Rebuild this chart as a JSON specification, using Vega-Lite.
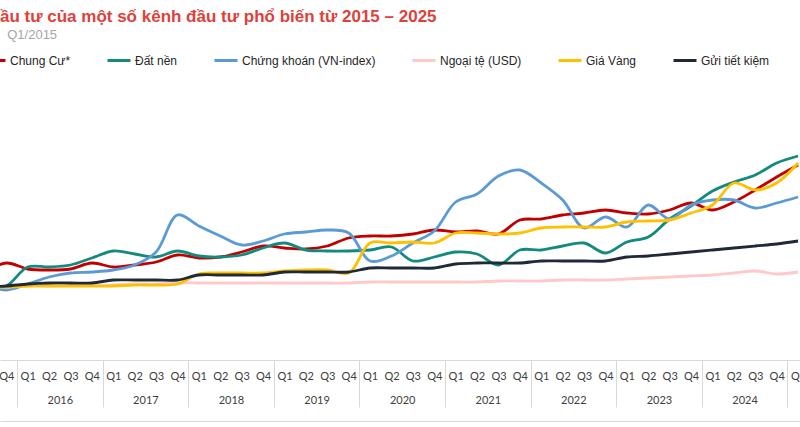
{
"$schema": "https://vega.github.io/schema/vega-lite/v6.json",
"width": 800,
"height": 280,
"autosize": {"type": "none"},
"padding": {"left": 0, "right": 0, "top": 80, "bottom": 67},
"background": "white",
"title": {
  "text": "ầu tư của một số kênh đầu tư phổ biến từ 2015 – 2025",
  "subtitle": "\u200b\u00a0\u00a0Q1/2015",
  "anchor": "start", "frame": "group", "orient": "top",
  "font": "Liberation Sans", "fontSize": 17, "fontWeight": "bold", "color": "#e0403a",
  "subtitleFont": "Liberation Sans", "subtitleFontSize": 13, "subtitleColor": "#a6a6a6",
  "subtitlePadding": 3, "offset": 5
},
"data": {"values": [
{"series":"Chung Cư*","q":2,"v":130},{"series":"Chung Cư*","q":3,"v":148},{"series":"Chung Cư*","q":4,"v":136},{"series":"Chung Cư*","q":5,"v":134},{"series":"Chung Cư*","q":6,"v":136},{"series":"Chung Cư*","q":7,"v":148},{"series":"Chung Cư*","q":8,"v":140},{"series":"Chung Cư*","q":9,"v":144},{"series":"Chung Cư*","q":10,"v":150},{"series":"Chung Cư*","q":11,"v":164},
{"series":"Chung Cư*","q":12,"v":158},{"series":"Chung Cư*","q":13,"v":160},{"series":"Chung Cư*","q":14,"v":170},{"series":"Chung Cư*","q":15,"v":182},{"series":"Chung Cư*","q":16,"v":178},{"series":"Chung Cư*","q":17,"v":176},{"series":"Chung Cư*","q":18,"v":182},{"series":"Chung Cư*","q":19,"v":198},{"series":"Chung Cư*","q":20,"v":202},{"series":"Chung Cư*","q":21,"v":202},
{"series":"Chung Cư*","q":22,"v":206},{"series":"Chung Cư*","q":23,"v":214},{"series":"Chung Cư*","q":24,"v":210},{"series":"Chung Cư*","q":25,"v":212},{"series":"Chung Cư*","q":26,"v":206},{"series":"Chung Cư*","q":27,"v":234},{"series":"Chung Cư*","q":28,"v":236},{"series":"Chung Cư*","q":29,"v":244},{"series":"Chung Cư*","q":30,"v":248},{"series":"Chung Cư*","q":31,"v":254},
{"series":"Chung Cư*","q":32,"v":248},{"series":"Chung Cư*","q":33,"v":246},{"series":"Chung Cư*","q":34,"v":254},{"series":"Chung Cư*","q":35,"v":268},{"series":"Chung Cư*","q":36,"v":254},{"series":"Chung Cư*","q":37,"v":270},{"series":"Chung Cư*","q":38,"v":294},{"series":"Chung Cư*","q":39,"v":320},{"series":"Chung Cư*","q":40,"v":344},
{"series":"Đất nền","q":2,"v":96},{"series":"Đất nền","q":3,"v":102},{"series":"Đất nền","q":4,"v":140},{"series":"Đất nền","q":5,"v":140},{"series":"Đất nền","q":6,"v":144},{"series":"Đất nền","q":7,"v":158},{"series":"Đất nền","q":8,"v":172},{"series":"Đất nền","q":9,"v":166},{"series":"Đất nền","q":10,"v":160},{"series":"Đất nền","q":11,"v":172},
{"series":"Đất nền","q":12,"v":162},{"series":"Đất nền","q":13,"v":160},{"series":"Đất nền","q":14,"v":164},{"series":"Đất nền","q":15,"v":178},{"series":"Đất nền","q":16,"v":188},{"series":"Đất nền","q":17,"v":174},{"series":"Đất nền","q":18,"v":172},{"series":"Đất nền","q":19,"v":172},{"series":"Đất nền","q":20,"v":174},{"series":"Đất nền","q":21,"v":180},
{"series":"Đất nền","q":22,"v":152},{"series":"Đất nền","q":23,"v":160},{"series":"Đất nền","q":24,"v":170},{"series":"Đất nền","q":25,"v":166},{"series":"Đất nền","q":26,"v":144},{"series":"Đất nền","q":27,"v":174},{"series":"Đất nền","q":28,"v":174},{"series":"Đất nền","q":29,"v":182},{"series":"Đất nền","q":30,"v":188},{"series":"Đất nền","q":31,"v":168},
{"series":"Đất nền","q":32,"v":190},{"series":"Đất nền","q":33,"v":200},{"series":"Đất nền","q":34,"v":236},{"series":"Đất nền","q":35,"v":262},{"series":"Đất nền","q":36,"v":292},{"series":"Đất nền","q":37,"v":310},{"series":"Đất nền","q":38,"v":324},{"series":"Đất nền","q":39,"v":348},{"series":"Đất nền","q":40,"v":362},
{"series":"Chứng khoán (VN-index)","q":2,"v":104},{"series":"Chứng khoán (VN-index)","q":3,"v":94},{"series":"Chứng khoán (VN-index)","q":4,"v":106},{"series":"Chứng khoán (VN-index)","q":5,"v":120},{"series":"Chứng khoán (VN-index)","q":6,"v":128},{"series":"Chứng khoán (VN-index)","q":7,"v":130},{"series":"Chứng khoán (VN-index)","q":8,"v":134},{"series":"Chứng khoán (VN-index)","q":9,"v":144},{"series":"Chứng khoán (VN-index)","q":10,"v":170},{"series":"Chứng khoán (VN-index)","q":11,"v":244},
{"series":"Chứng khoán (VN-index)","q":12,"v":222},{"series":"Chứng khoán (VN-index)","q":13,"v":202},{"series":"Chứng khoán (VN-index)","q":14,"v":184},{"series":"Chứng khoán (VN-index)","q":15,"v":192},{"series":"Chứng khoán (VN-index)","q":16,"v":206},{"series":"Chứng khoán (VN-index)","q":17,"v":210},{"series":"Chứng khoán (VN-index)","q":18,"v":214},{"series":"Chứng khoán (VN-index)","q":19,"v":208},{"series":"Chứng khoán (VN-index)","q":20,"v":152},{"series":"Chứng khoán (VN-index)","q":21,"v":162},
{"series":"Chứng khoán (VN-index)","q":22,"v":188},{"series":"Chứng khoán (VN-index)","q":23,"v":212},{"series":"Chứng khoán (VN-index)","q":24,"v":270},{"series":"Chứng khoán (VN-index)","q":25,"v":286},{"series":"Chứng khoán (VN-index)","q":26,"v":322},{"series":"Chứng khoán (VN-index)","q":27,"v":334},{"series":"Chứng khoán (VN-index)","q":28,"v":308},{"series":"Chứng khoán (VN-index)","q":29,"v":274},{"series":"Chứng khoán (VN-index)","q":30,"v":218},{"series":"Chứng khoán (VN-index)","q":31,"v":240},
{"series":"Chứng khoán (VN-index)","q":32,"v":220},{"series":"Chứng khoán (VN-index)","q":33,"v":264},{"series":"Chứng khoán (VN-index)","q":34,"v":236},{"series":"Chứng khoán (VN-index)","q":35,"v":264},{"series":"Chứng khoán (VN-index)","q":36,"v":274},{"series":"Chứng khoán (VN-index)","q":37,"v":274},{"series":"Chứng khoán (VN-index)","q":38,"v":258},{"series":"Chứng khoán (VN-index)","q":39,"v":268},{"series":"Chứng khoán (VN-index)","q":40,"v":280},
{"series":"Ngoại tệ (USD)","q":2,"v":100},{"series":"Ngoại tệ (USD)","q":3,"v":100},{"series":"Ngoại tệ (USD)","q":4,"v":102},{"series":"Ngoại tệ (USD)","q":5,"v":102},{"series":"Ngoại tệ (USD)","q":6,"v":104},{"series":"Ngoại tệ (USD)","q":7,"v":104},{"series":"Ngoại tệ (USD)","q":8,"v":104},{"series":"Ngoại tệ (USD)","q":9,"v":106},{"series":"Ngoại tệ (USD)","q":10,"v":106},{"series":"Ngoại tệ (USD)","q":11,"v":108},
{"series":"Ngoại tệ (USD)","q":12,"v":108},{"series":"Ngoại tệ (USD)","q":13,"v":108},{"series":"Ngoại tệ (USD)","q":14,"v":108},{"series":"Ngoại tệ (USD)","q":15,"v":108},{"series":"Ngoại tệ (USD)","q":16,"v":108},{"series":"Ngoại tệ (USD)","q":17,"v":108},{"series":"Ngoại tệ (USD)","q":18,"v":108},{"series":"Ngoại tệ (USD)","q":19,"v":108},{"series":"Ngoại tệ (USD)","q":20,"v":110},{"series":"Ngoại tệ (USD)","q":21,"v":110},
{"series":"Ngoại tệ (USD)","q":22,"v":110},{"series":"Ngoại tệ (USD)","q":23,"v":110},{"series":"Ngoại tệ (USD)","q":24,"v":110},{"series":"Ngoại tệ (USD)","q":25,"v":110},{"series":"Ngoại tệ (USD)","q":26,"v":112},{"series":"Ngoại tệ (USD)","q":27,"v":112},{"series":"Ngoại tệ (USD)","q":28,"v":112},{"series":"Ngoại tệ (USD)","q":29,"v":114},{"series":"Ngoại tệ (USD)","q":30,"v":114},{"series":"Ngoại tệ (USD)","q":31,"v":114},
{"series":"Ngoại tệ (USD)","q":32,"v":116},{"series":"Ngoại tệ (USD)","q":33,"v":118},{"series":"Ngoại tệ (USD)","q":34,"v":120},{"series":"Ngoại tệ (USD)","q":35,"v":122},{"series":"Ngoại tệ (USD)","q":36,"v":124},{"series":"Ngoại tệ (USD)","q":37,"v":128},{"series":"Ngoại tệ (USD)","q":38,"v":132},{"series":"Ngoại tệ (USD)","q":39,"v":126},{"series":"Ngoại tệ (USD)","q":40,"v":130},
{"series":"Giá Vàng","q":2,"v":100},{"series":"Giá Vàng","q":3,"v":100},{"series":"Giá Vàng","q":4,"v":102},{"series":"Giá Vàng","q":5,"v":102},{"series":"Giá Vàng","q":6,"v":102},{"series":"Giá Vàng","q":7,"v":102},{"series":"Giá Vàng","q":8,"v":102},{"series":"Giá Vàng","q":9,"v":104},{"series":"Giá Vàng","q":10,"v":104},{"series":"Giá Vàng","q":11,"v":106},
{"series":"Giá Vàng","q":12,"v":126},{"series":"Giá Vàng","q":13,"v":128},{"series":"Giá Vàng","q":14,"v":128},{"series":"Giá Vàng","q":15,"v":128},{"series":"Giá Vàng","q":16,"v":132},{"series":"Giá Vàng","q":17,"v":134},{"series":"Giá Vàng","q":18,"v":134},{"series":"Giá Vàng","q":19,"v":128},{"series":"Giá Vàng","q":20,"v":188},{"series":"Giá Vàng","q":21,"v":188},
{"series":"Giá Vàng","q":22,"v":190},{"series":"Giá Vàng","q":23,"v":188},{"series":"Giá Vàng","q":24,"v":208},{"series":"Giá Vàng","q":25,"v":208},{"series":"Giá Vàng","q":26,"v":206},{"series":"Giá Vàng","q":27,"v":208},{"series":"Giá Vàng","q":28,"v":218},{"series":"Giá Vàng","q":29,"v":220},{"series":"Giá Vàng","q":30,"v":220},{"series":"Giá Vàng","q":31,"v":220},
{"series":"Giá Vàng","q":32,"v":230},{"series":"Giá Vàng","q":33,"v":232},{"series":"Giá Vàng","q":34,"v":234},{"series":"Giá Vàng","q":35,"v":248},{"series":"Giá Vàng","q":36,"v":264},{"series":"Giá Vàng","q":37,"v":308},{"series":"Giá Vàng","q":38,"v":294},{"series":"Giá Vàng","q":39,"v":308},{"series":"Giá Vàng","q":40,"v":348},
{"series":"Gửi tiết kiệm","q":2,"v":100},{"series":"Gửi tiết kiệm","q":3,"v":102},{"series":"Gửi tiết kiệm","q":4,"v":106},{"series":"Gửi tiết kiệm","q":5,"v":108},{"series":"Gửi tiết kiệm","q":6,"v":108},{"series":"Gửi tiết kiệm","q":7,"v":108},{"series":"Gửi tiết kiệm","q":8,"v":114},{"series":"Gửi tiết kiệm","q":9,"v":114},{"series":"Gửi tiết kiệm","q":10,"v":114},{"series":"Gửi tiết kiệm","q":11,"v":114},
{"series":"Gửi tiết kiệm","q":12,"v":124},{"series":"Gửi tiết kiệm","q":13,"v":124},{"series":"Gửi tiết kiệm","q":14,"v":124},{"series":"Gửi tiết kiệm","q":15,"v":124},{"series":"Gửi tiết kiệm","q":16,"v":130},{"series":"Gửi tiết kiệm","q":17,"v":130},{"series":"Gửi tiết kiệm","q":18,"v":130},{"series":"Gửi tiết kiệm","q":19,"v":130},{"series":"Gửi tiết kiệm","q":20,"v":138},{"series":"Gửi tiết kiệm","q":21,"v":138},
{"series":"Gửi tiết kiệm","q":22,"v":138},{"series":"Gửi tiết kiệm","q":23,"v":138},{"series":"Gửi tiết kiệm","q":24,"v":146},{"series":"Gửi tiết kiệm","q":25,"v":148},{"series":"Gửi tiết kiệm","q":26,"v":148},{"series":"Gửi tiết kiệm","q":27,"v":148},{"series":"Gửi tiết kiệm","q":28,"v":152},{"series":"Gửi tiết kiệm","q":29,"v":152},{"series":"Gửi tiết kiệm","q":30,"v":152},{"series":"Gửi tiết kiệm","q":31,"v":152},
{"series":"Gửi tiết kiệm","q":32,"v":160},{"series":"Gửi tiết kiệm","q":33,"v":162},{"series":"Gửi tiết kiệm","q":34,"v":166},{"series":"Gửi tiết kiệm","q":35,"v":170},{"series":"Gửi tiết kiệm","q":36,"v":174},{"series":"Gửi tiết kiệm","q":37,"v":178},{"series":"Gửi tiết kiệm","q":38,"v":182},{"series":"Gửi tiết kiệm","q":39,"v":186},{"series":"Gửi tiết kiệm","q":40,"v":192}
]},
"layer": [
  {
    "mark": {"type": "line", "interpolate": "catmull-rom", "strokeWidth": 2.8, "clip": true},
    "encoding": {
      "x": {"field": "q", "type": "quantitative",
        "scale": {"domain": [2.706, 40.09], "nice": false, "zero": false},
        "axis": {"orient": "bottom", "title": null, "values": [3,4,5,6,7,8,9,10,11,12,13,14,15,16,17,18,19,20,21,22,23,24,25,26,27,28,29,30,31,32,33,34,35,36,37,38,39,40],
          "labelExpr": "'Q' + ((((datum.value % 4) + 4) % 4) + 1)",
          "ticks": false, "grid": false, "domain": true, "domainColor": "#d9d9d9", "domainWidth": 1,
          "labelFont": "Lato", "labelFontSize": 11, "labelColor": "#404040", "labelPadding": 10,
          "labelOverlap": false, "labelFlush": false, "labelBound": false}},
      "y": {"field": "v", "type": "quantitative", "scale": {"domain": [-46, 514], "nice": false, "zero": false}, "axis": null},
      "color": {"field": "series", "type": "nominal",
        "scale": {"domain": ["Chung Cư*", "Đất nền", "Chứng khoán (VN-index)", "Ngoại tệ (USD)", "Giá Vàng", "Gửi tiết kiệm"],
                  "range": ["#c00000", "#138a7e", "#5b9bd5", "#ffc9c9", "#ffc000", "#1e2a38"]},
        "legend": {"orient": "none", "legendX": -19, "legendY": -32.5, "direction": "horizontal", "title": null,
          "symbolType": "stroke", "symbolSize": 529, "symbolStrokeWidth": 3,
          "labelFont": "Liberation Sans", "labelFontSize": 12, "labelColor": "#262626",
          "columnPadding": 30, "labelOffset": 3}}
    }
  },
  {
    "mark": {"type": "point", "opacity": 0},
    "encoding": {
      "x": {"field": "q", "type": "quantitative",
        "scale": {"domain": [2.706, 40.09], "nice": false, "zero": false},
        "axis": {"orient": "bottom", "title": null, "values": [3.5,7.5,11.5,15.5,19.5,23.5,27.5,31.5,35.5,39.5],
          "labelExpr": "datum.value > 39 ? '' : '' + (2016 + (datum.value - 3.5) / 4)",
          "labelOffset": 42.8, "ticks": true, "tickSize": 47, "tickColor": "#d9d9d9", "tickWidth": 1,
          "grid": false, "domain": false,
          "labelFont": "Lato", "labelFontSize": 11, "labelColor": "#404040", "labelPadding": -13,
          "labelOverlap": false, "labelFlush": false, "labelBound": false}},
      "y": {"field": "v", "type": "quantitative", "axis": null}
    }
  },
  {
    "mark": {"type": "point", "opacity": 0},
    "encoding": {
      "x": {"field": "q", "type": "quantitative",
        "scale": {"domain": [2.706, 40.09], "nice": false, "zero": false},
        "axis": {"orient": "bottom", "title": null, "offset": 61, "labels": false, "ticks": false, "grid": false,
          "domain": true, "domainColor": "#d9d9d9", "domainWidth": 1}},
      "y": {"field": "v", "type": "quantitative", "axis": null}
    }
  }
],
"resolve": {"axis": {"x": "independent"}},
"config": {"view": {"stroke": null}}
}
